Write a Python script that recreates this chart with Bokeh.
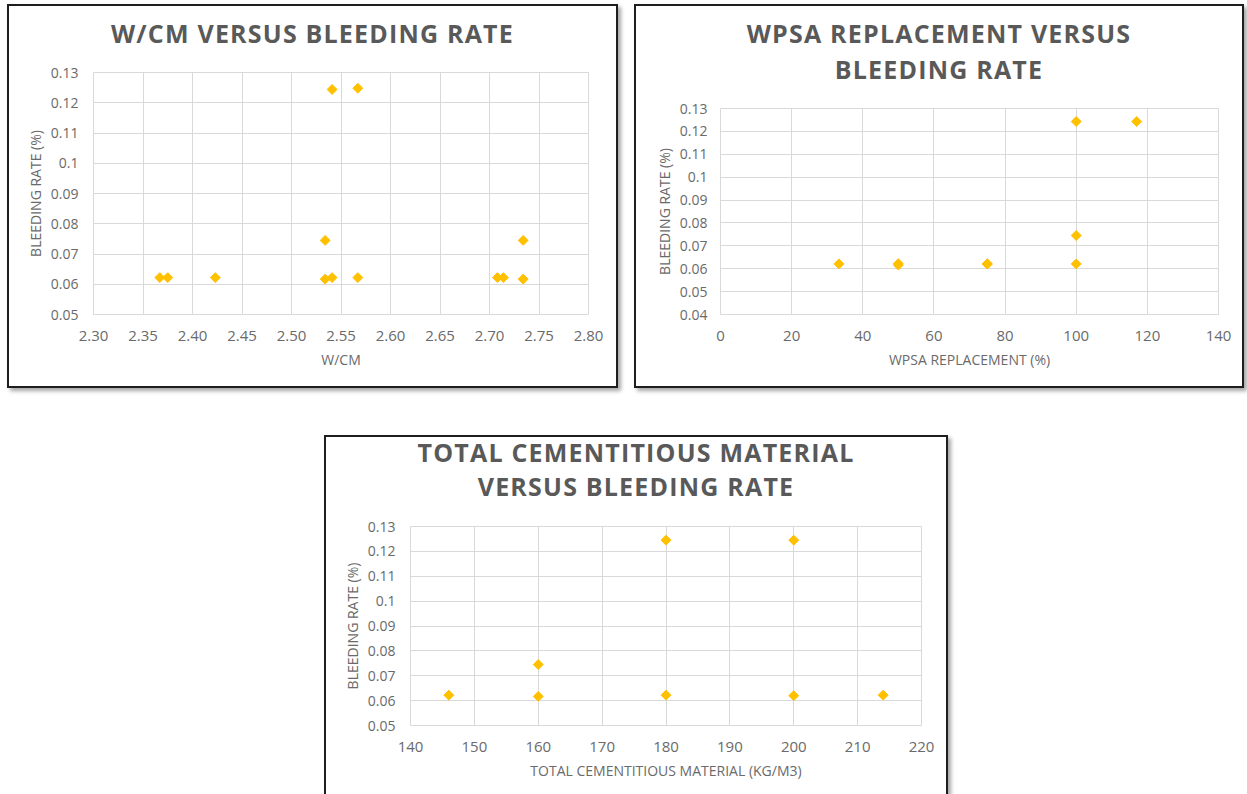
import numpy as np
from bokeh.plotting import figure
from bokeh.models import Range1d, FixedTicker, CustomJSTickFormatter, Div, Spacer
from bokeh.layouts import column, row
from bokeh.embed import file_html
from bokeh.resources import INLINE

# ---------------- data ----------------
# Chart 1: W/CM versus bleeding rate
wcm_x = [2.367, 2.375, 2.423, 2.534, 2.534, 2.541, 2.541, 2.567, 2.567, 2.708, 2.714, 2.734, 2.734]
wcm_y = [0.0622, 0.0622, 0.0622, 0.0745, 0.0617, 0.1244, 0.0622, 0.1248, 0.0622, 0.0622, 0.0622, 0.0745, 0.0617]
wcm_xticks = [2.30, 2.35, 2.40, 2.45, 2.50, 2.55, 2.60, 2.65, 2.70, 2.75, 2.80]
wcm_yticks = [0.05, 0.06, 0.07, 0.08, 0.09, 0.10, 0.11, 0.12, 0.13]

# Chart 2: WPSA replacement versus bleeding rate
wpsa_x = [33.3, 50, 50, 75, 75, 100, 100, 100, 117]
wpsa_y = [0.0621, 0.0622, 0.0616, 0.0622, 0.0620, 0.1243, 0.0745, 0.0621, 0.1243]
wpsa_xticks = [0, 20, 40, 60, 80, 100, 120, 140]
wpsa_yticks = [0.04, 0.05, 0.06, 0.07, 0.08, 0.09, 0.10, 0.11, 0.12, 0.13]

# Chart 3: total cementitious material versus bleeding rate
tcm_x = [146, 160, 160, 180, 180, 200, 200, 214]
tcm_y = [0.0622, 0.0745, 0.0617, 0.1245, 0.0622, 0.1245, 0.0620, 0.0622]
tcm_xticks = [140, 150, 160, 170, 180, 190, 200, 210, 220]
tcm_yticks = [0.05, 0.06, 0.07, 0.08, 0.09, 0.10, 0.11, 0.12, 0.13]

titles = [
    ["W/CM VERSUS BLEEDING RATE"],
    ["WPSA REPLACEMENT VERSUS", "BLEEDING RATE"],
    ["TOTAL CEMENTITIOUS MATERIAL", "VERSUS BLEEDING RATE"],
]
xlabels = ["W/CM", "WPSA REPLACEMENT (%)", "TOTAL CEMENTITIOUS MATERIAL (KG/M3)"]
ylabel = "BLEEDING RATE (%)"

# ---------------- style ----------------
GOLD = "#FFC000"
GRID = "#d9d9d9"
TICK = "#6a6a6a"
TITLE = "#595959"
FONT = "Open Sans"


def make_fig(width, height, xs, ys, xticks, yticks, xfmt, xlabel, mb, ystand):
    p = figure(width=width, height=height,
               x_range=Range1d(xticks[0], xticks[-1]),
               y_range=Range1d(yticks[0], yticks[-1]),
               output_backend="svg", toolbar_location=None, title_location=None,
               min_border_left=mb[0], min_border_right=mb[1],
               min_border_top=mb[2], min_border_bottom=mb[3])
    p.background_fill_color = "white"
    p.border_fill_color = "white"
    p.outline_line_color = GRID
    p.xaxis.ticker = FixedTicker(ticks=xticks)
    p.yaxis.ticker = FixedTicker(ticks=yticks)
    p.xaxis.formatter = CustomJSTickFormatter(code=xfmt)
    p.yaxis.formatter = CustomJSTickFormatter(code="return String(Math.round(tick*100)/100);")
    for ax in (p.xaxis[0], p.yaxis[0]):
        ax.axis_line_color = None
        ax.major_tick_line_color = None
        ax.minor_tick_line_color = None
        ax.major_tick_out = 0
        ax.major_tick_in = 0
        ax.minor_tick_out = 0
        ax.minor_tick_in = 0
        ax.major_label_text_font = FONT
        ax.major_label_text_color = TICK
        ax.axis_label_text_font = FONT
        ax.axis_label_text_font_style = "normal"
        ax.axis_label_text_color = TICK
        ax.axis_label_text_font_size = "14px"
    p.xaxis.major_label_text_font_size = "15px"
    p.yaxis.major_label_text_font_size = "14px"
    p.xaxis.major_label_standoff = 16
    p.yaxis.major_label_standoff = ystand
    p.xaxis.axis_label_standoff = 6
    p.yaxis.axis_label_standoff = 3
    p.xaxis.axis_label = xlabel
    p.yaxis.axis_label = ylabel
    p.xgrid.grid_line_color = GRID
    p.ygrid.grid_line_color = GRID
    p.scatter(xs, ys, marker="square", angle=np.pi / 4, size=7,
              fill_color=GOLD, line_color=GOLD)
    return p


def title_div(lines, width, height, pad, lh):
    inner = "<br>".join(lines)
    html = (f'<div style="width:{width}px;text-align:center;position:relative;top:{pad}px;'
            f'font-family:\'Open Sans\';font-weight:bold;font-size:25px;letter-spacing:1.2px;'
            f'line-height:{lh}px;color:{TITLE};">{inner}</div>')
    return Div(text=html, width=width, height=height, margin=0)


def box(children, extra=None):
    st = {"border": "2px solid #1e1e1e",
          "box-shadow": "3px 3px 4px rgba(0,0,0,0.35)",
          "background-color": "white"}
    if extra:
        st.update(extra)
    return column(*children, styles=st)


fmt2 = "return tick.toFixed(2);"
fmt0 = "return tick.toFixed(0);"

p1 = make_fig(607, 336, wcm_x, wcm_y, wcm_xticks, wcm_yticks, fmt2, xlabels[0], (84, 28, 22, 72), 15)
p2 = make_fig(606, 298, wpsa_x, wpsa_y, wpsa_xticks, wpsa_yticks, fmt0, xlabels[1], (84, 24, 20, 72), 13)
p3 = make_fig(620, 288, tcm_x, tcm_y, tcm_xticks, tcm_yticks, fmt0, xlabels[2], (84, 25, 20, 69), 15)

d1 = title_div(titles[0], 607, 44, 10, 35)
d2 = title_div(titles[1], 606, 82, 9, 36)
d3 = title_div(titles[2], 620, 69, -2, 34)

b1 = box([d1, p1])
b2 = box([d2, p2])
b3 = box([d3, p3], {"border-bottom": "none"})

root = column(
    Spacer(height=4),
    row(Spacer(width=7), b1, Spacer(width=16), b2),
    Spacer(height=47),
    row(Spacer(width=324), b3),
)

open("out.html", "w").write(file_html(root, INLINE))
